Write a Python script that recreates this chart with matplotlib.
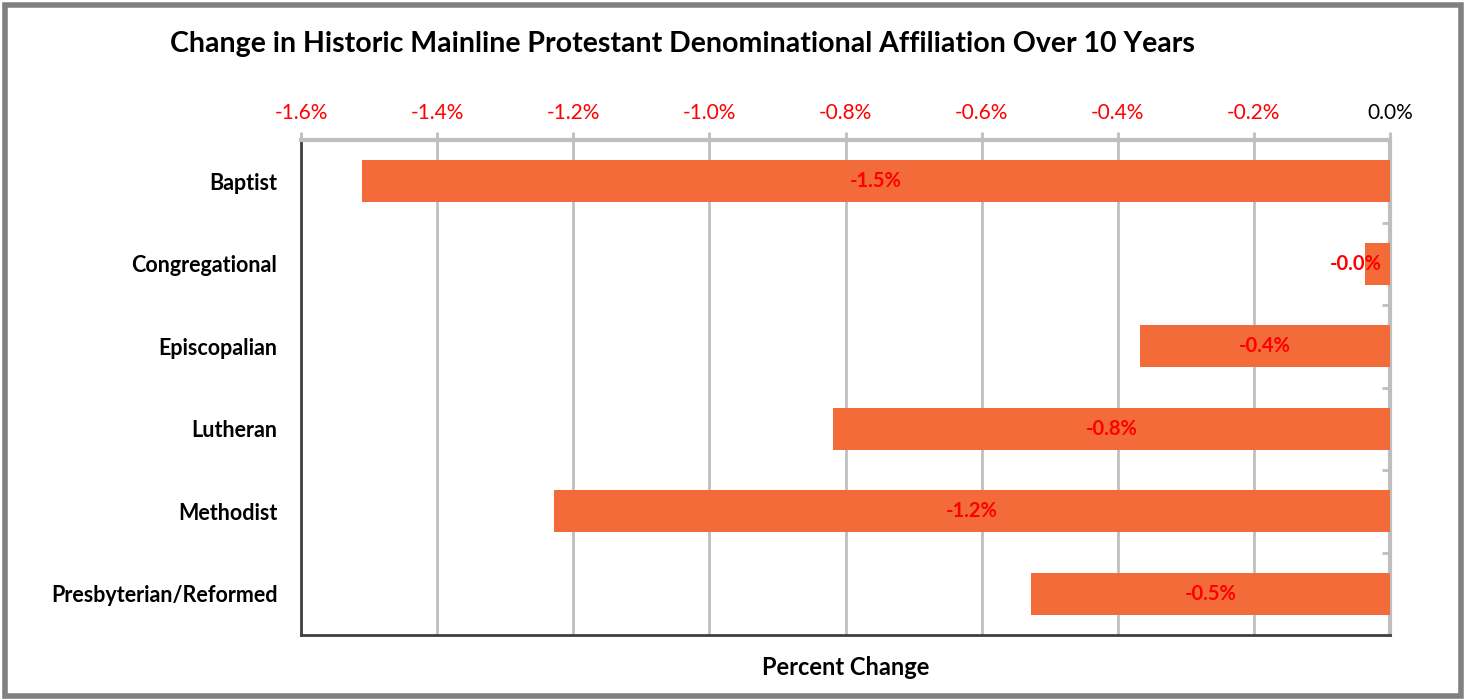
import numpy as np
import matplotlib.pyplot as plt
from matplotlib.patches import Rectangle
from matplotlib.ticker import FuncFormatter

plt.rcParams['font.family'] = ['Lato', 'DejaVu Sans']

denominations = ['Baptist', 'Congregational', 'Episcopalian', 'Lutheran',
                 'Methodist', 'Presbyterian/Reformed']
pct_change = [-1.51, -0.037, -0.367, -0.818, -1.228, -0.527]
x_ticks = [-1.6, -1.4, -1.2, -1.0, -0.8, -0.6, -0.4, -0.2, 0.0]

bar_color = '#F26B38'
grid_color = '#BFBFBF'

fig = plt.figure(figsize=(14.7, 7), dpi=100)
ax = fig.add_axes([301 / 1470, 1 - 635 / 700, 1089 / 1470, 495 / 700])

y = np.arange(len(denominations))
ax.barh(y, pct_change, height=0.51, color=bar_color, zorder=3)

for yi, v in zip(y, pct_change):
    ax.text(v / 2 if v < -0.1 else -0.012, yi, f'{v:.1f}%',
            ha='center' if v < -0.1 else 'right', va='center',
            color='red', fontsize=14.5, fontweight='bold', zorder=4)

ax.set_xlim(-1.6, 0.0)
ax.set_ylim(len(denominations) - 0.5, -0.5)
ax.set_xticks(x_ticks)
ax.xaxis.set_major_formatter(FuncFormatter(lambda v, _: f'{v:.1f}%'))
ax.xaxis.tick_top()
ax.tick_params(axis='x', which='major', length=6, width=2, color=grid_color,
               labelsize=15, pad=6)
for lbl, v in zip(ax.get_xticklabels(), x_ticks):
    lbl.set_color('black' if v == 0 else 'red')

ax.set_yticks(y)
ax.set_yticklabels(denominations, fontsize=15.5, fontweight='bold')
ax.tick_params(axis='y', which='major', length=0, pad=17)
# small ticks on the zero line between categories
ax.set_yticks(np.arange(len(denominations) + 1) - 0.5, minor=True)
ax.yaxis.set_ticks_position('both')
ax.tick_params(axis='y', which='minor', left=False, right=True, direction='in',
               length=6, width=2, color=grid_color)

ax.grid(axis='x', color=grid_color, linewidth=2, zorder=0)
ax.spines['left'].set_color('#404040')
ax.spines['left'].set_linewidth(2)
ax.spines['bottom'].set_color('#404040')
ax.spines['bottom'].set_linewidth(2)
ax.spines['top'].set_color(grid_color)
ax.spines['top'].set_linewidth(3)
ax.spines['right'].set_color(grid_color)
ax.spines['right'].set_linewidth(3)

ax.set_xlabel('Percent Change', fontsize=17, fontweight='bold')
ax.xaxis.set_label_position('bottom')
ax.xaxis.labelpad = 15

fig.text(170 / 1470, 1 - 44 / 700, 'Change in Historic Mainline Protestant Denominational Affiliation Over 10 Years',
         fontsize=20.5, fontweight='bold', va='center', ha='left')

fig.patches.append(Rectangle((5 / 1470, 4 / 700), 1456 / 1470, 691 / 700,
                             transform=fig.transFigure, fill=False,
                             edgecolor='#808080', linewidth=4))

fig.savefig('out.png', dpi=100)
